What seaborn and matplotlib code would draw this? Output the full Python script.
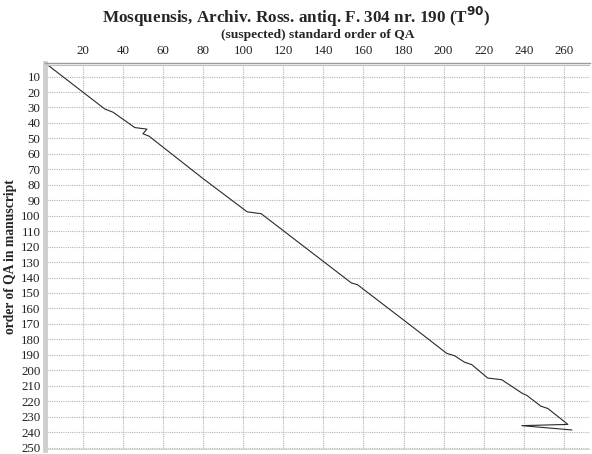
import pandas as pd
import matplotlib.pyplot as plt
import seaborn as sns

# vertices of the trace (standard order vs. manuscript order)
standard_order = [1, 31, 35, 46, 52, 50, 53, 80, 102, 109, 154, 157, 185,
                  201.5, 205.5, 210.5, 214, 222, 229, 239.5, 241.5, 248.5,
                  252, 262, 239, 264]
manuscript_order = [1, 31, 33, 43, 44, 47, 48.5, 76, 97.5, 98.7, 143.5, 144.6,
                    172.4, 189, 190.6, 194.8, 196.3, 205, 206.1, 215.1, 216.2,
                    223.2, 224.7, 235, 235.8, 238.6]

x_ticks = list(range(20, 261, 20))
y_ticks = list(range(10, 251, 10))

df = pd.DataFrame({'standard': standard_order, 'manuscript': manuscript_order})

sns.set_style('white')
plt.rcParams['font.family'] = ['Liberation Serif', 'DejaVu Serif']

fig = plt.figure(figsize=(5.92, 4.54), dpi=100)
ax = fig.add_axes([0.0755, 0.009, 0.921, 0.853])

sns.lineplot(data=df, x='standard', y='manuscript', sort=False, estimator=None,
             color='#2a2a2a', linewidth=0.8, ax=ax)

ax.set_xlim(1, 273)
ax.set_ylim(251.5, 1)
ax.set_xticks(x_ticks)
ax.set_yticks(y_ticks)
ax.xaxis.tick_top()
ax.xaxis.set_label_position('top')
ax.tick_params(axis='both', length=0, labelsize=9.3, colors='#222222')
ax.tick_params(axis='x', pad=4)
ax.tick_params(axis='y', pad=3)
ax.grid(True, color='#b5b5b5', linestyle=(0, (1, 1)), linewidth=0.8)

for side in ['right', 'bottom']:
    ax.spines[side].set_visible(False)
ax.spines['left'].set_color('#cfcfcf')
ax.spines['left'].set_linewidth(3.5)
ax.spines['top'].set_color('#9a9a9a')
ax.spines['top'].set_linewidth(1.0)
ax.axhline(2.2, color='#bdbdbd', linewidth=0.8)
ax.axhline(251.5, color='#cfcfcf', linewidth=2)

ax.set_xlabel('(suspected) standard order of QA', fontsize=9.7,
              fontweight='bold', labelpad=5)
ax.set_ylabel('order of QA in manuscript', fontsize=9.8, fontweight='bold')
ax.yaxis.set_label_coords(-0.05, 0.5)
fig.suptitle('Mosquensis, Archiv. Ross. antiq. F. 304 nr. 190 (T$^{\\mathbf{90}}$)',
             fontsize=12.3, fontweight='bold', y=0.99)

fig.savefig('out.png', dpi=100)
